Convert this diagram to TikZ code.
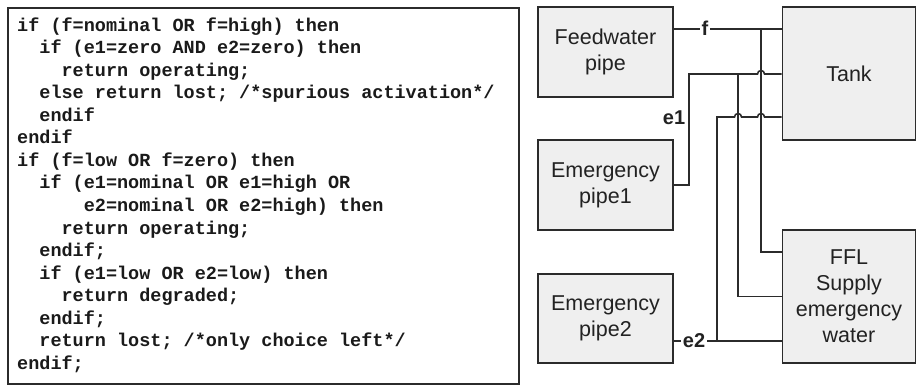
\documentclass[tikz,border=0pt]{standalone}
\usepackage{fontspec}
\setmainfont{Liberation Sans}
\setmonofont{Liberation Mono}
\definecolor{linecol}{HTML}{2B2B2B}
\definecolor{boxfill}{HTML}{EFEFEF}
\definecolor{txt}{HTML}{222222}
\definecolor{codetxt}{HTML}{1A1A1A}
\begin{document}
\begin{tikzpicture}[x=1pt,y=-1pt,
  block/.style={draw=linecol, line width=1.8pt, fill=boxfill, text=txt,
    align=center, inner sep=0pt, font=\fontsize{21.5}{26}\selectfont},
  wire/.style={draw=linecol, line width=1.6pt},
  sig/.style={text=txt, inner sep=1.5pt, font=\bfseries\fontsize{20}{24}\selectfont},
  codeline/.style={anchor=base west, inner sep=0pt, text=codetxt,
    font=\ttfamily\bfseries\fontsize{18.5}{22.5}\selectfont}]
\useasboundingbox (0,0) rectangle (917,387);

% frame around the behaviour code
\node (codebox) [draw=linecol, line width=1.6pt, anchor=north west, inner sep=0pt,
  minimum width=511pt, minimum height=376pt] at (7,7) {};

% behaviour code, one node per line
\node[codeline] (l1)  at (17,31.5)   {if (f=nominal OR f=high) then};
\node[codeline] (l2)  at (39.2,54)   {if (e1=zero AND e2=zero) then};
\node[codeline] (l3)  at (61.4,76.5) {return operating;};
\node[codeline] (l4)  at (39.2,99)   {else return lost; /*spurious activation*/};
\node[codeline] (l5)  at (39.2,121.5){endif};
\node[codeline] (l6)  at (17,144)    {endif};
\node[codeline] (l7)  at (17,166.5)  {if (f=low OR f=zero) then};
\node[codeline] (l8)  at (39.2,189)  {if (e1=nominal OR e1=high OR};
\node[codeline] (l9)  at (83.6,211.5){e2=nominal OR e2=high) then};
\node[codeline] (l10) at (61.4,234)  {return operating;};
\node[codeline] (l11) at (39.2,256.5){endif;};
\node[codeline] (l12) at (39.2,279)  {if (e1=low OR e2=low) then};
\node[codeline] (l13) at (61.4,301.5){return degraded;};
\node[codeline] (l14) at (39.2,324)  {endif;};
\node[codeline] (l15) at (39.2,346.5){return lost; /*only choice left*/};
\node[codeline] (l16) at (17,369)    {endif;};

% components
\node[block, minimum width=135pt, minimum height=90pt]  (feed)  at (605.5,52)    {Feedwater\\pipe};
\node[block, minimum width=133pt, minimum height=133pt] (tank)  at (849,73.5)    {Tank};
\node[block, minimum width=135pt, minimum height=90pt]  (pipe1) at (605.5,185)   {Emergency\\pipe1};
\node[block, minimum width=135pt, minimum height=89pt]  (pipe2) at (605.5,318.5) {Emergency\\pipe2};
\node[block, minimum width=133pt, minimum height=133pt] (ffl)   at (849,296.5)   {FFL\\Supply\\emergency\\water};

% junction and bend points
\coordinate (fj)    at (761,29);
\coordinate (fdown) at (761,252);
\coordinate (e1c)   at (689,74);
\coordinate (e1j)   at (738,74);
\coordinate (e1h)   at (757.5,74);
\coordinate (e2j)   at (717,341);
\coordinate (e2top) at (717,117);
\coordinate (e2h1)  at (734.5,117);
\coordinate (e2h2)  at (757.5,117);

% feedwater flow f
\draw[wire] (feed.east |- fj) -- (tank.west |- fj);
\draw[wire] (fj) |- (ffl.west |- fdown);
\node[sig, fill=white] (flab) at (705,28) {f};

% emergency flow e1 (hops over f)
\draw[wire] (pipe1.east) -| (e1c) -- (e1h)
  arc[start angle=180, end angle=0, radius=3.5pt] -- (tank.west |- e1c);
\draw[wire] (e1j) |- (ffl.west);
\node[sig] (e1lab) at (674,118) {e1};

% emergency flow e2 (hops over e1 and f)
\draw[wire] (pipe2.east |- e2j) -- (ffl.west |- e2j);
\draw[wire] (e2j) -- (e2top) -- (e2h1)
  arc[start angle=180, end angle=0, radius=3.5pt] -- (e2h2)
  arc[start angle=180, end angle=0, radius=3.5pt] -- (tank.west |- e2top);
\node[sig, fill=white] (e2lab) at (694,341) {e2};
\end{tikzpicture}
\end{document}
